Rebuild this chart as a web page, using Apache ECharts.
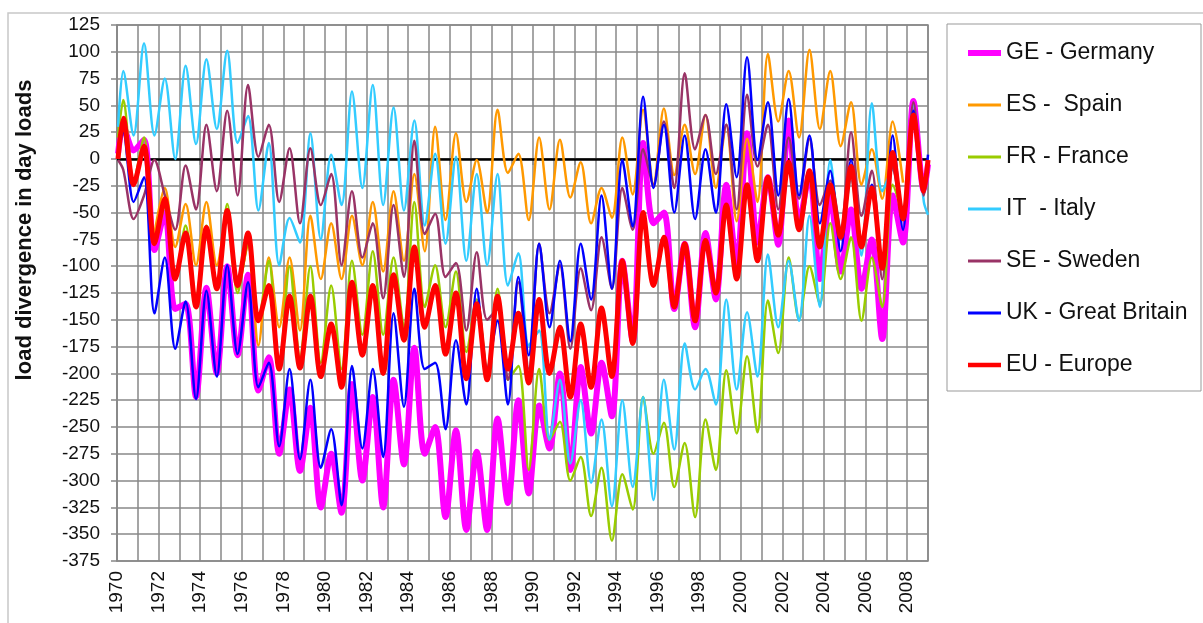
<!DOCTYPE html>
<html>
<head>
<meta charset="utf-8">
<script src="https://cdn.jsdelivr.net/npm/echarts@6/dist/echarts.min.js"></script>
<style>
html,body{margin:0;padding:0;background:#fff;}
#c{width:1203px;height:623px;}
</style>
</head>
<body>
<div id="c"></div>
<script>
// time points: start, then half-year samples (peak ~ .3, trough ~ .8), then end
const times = [1970.05];
for (let k = 0; k < 78; k++) times.push(+(1970.3 + 0.5 * k).toFixed(2));
times.push(2009.0);

const seriesNames = ['GE - Germany', 'ES -  Spain', 'FR - France', 'IT  - Italy', 'SE - Sweden', 'UK - Great Britain', 'EU - Europe'];
const yTitle = 'load divergence in day loads';

const GE = [5,
  30, 8,   18, -85,   -50, -140,   -135, -222,   -120, -200,
  -100, -183,   -108, -216,   -185, -275,   -215, -291,   -232, -325,
  -275, -330,   -210, -300,   -222, -325,   -206, -285,   -176, -275,
  -250, -334,   -253, -346,   -273, -346,   -242, -321,   -225, -312,
  -230, -270,   -200, -290,   -194, -256,   -190, -240,   -95, -170,
  15, -60,   -50, -140,   -79, -157,   -69, -131,   -24, -99,
  24, -78,   -17, -80,   36, -60,   -14, -112,   -34, -105,
  -47, -121,   -75, -168,   -34, -78,   54, -30,
  -5];

const ES = [null,
  null, null,   null, -70,   -27, -82,   -42, -99,   -40, -99,
  -53, -121,   -80, -174,   -92, -157,   -92, -160,   -53, -112,
  -60, -112,   -53, -99,   -40, -105,   -30, -95,   -14, -86,
  30, -57,   24, -40,   -1, -50,   46, -13,   5, -57,
  20, -47,   18, -36,   -3, -60,   -27, -55,   20, -33,
  46, -24,   47, -15,   32, -14,   41, -27,   32, -58,
  19, -40,   98, 35,   82, 20,   102, 28,   82, 12,
  53, -24,   9, -37,   35, -22,   null, null,
  null];

const FR = [20,
  55, -20,   20, -80,   -45, -110,   -62, -130,   -62, -120,
  -42, -125,   -80, -150,   -95, -196,   -100, -185,   -100, -190,
  -118, -196,   -95, -164,   -86, -164,   -92, -157,   -40, -138,
  -99, -157,   -105, -180,   -131, -196,   -121, -206,   -193, -290,
  -196, -262,   -245, -300,   -278, -333,   -288, -356,   -294, -327,
  -222, -275,   -246, -306,   -265, -334,   -243, -290,   -197, -256,
  -184, -255,   -132, -181,   -92, -150,   -100, -135,   -60, -112,
  -73, -151,   -92, -138,   -24, -53,   null, null,
  null];

const IT = [30,
  82, 22,   108, 22,   75, 0,   87, 14,   93, 28,
  101, 15,   40, -48,   15, -99,   -55, -78,   24, -75,
  4, -43,   63, -27,   69, -43,   48, -48,   36, -62,
  5, -79,   2, -95,   -14, -99,   -14, -118,   -88, -174,
  -160, -262,   -206, -284,   -225, -302,   -243, -324,   -225, -306,
  -222, -318,   -206, -271,   -172, -215,   -196, -229,   -131, -215,
  -143, -203,   -89, -157,   -95, -151,   -53, -138,   -1, -70,
  -20, -90,   52, -30,   -10, -50,   50, -40,
  -52];

const SE = [-1,
  -10, -56,   -34, -1,   -34, -66,   -6, -47,   32, -30,
  45, -34,   69, 2,   32, -40,   10, -60,   10, -43,
  -14, -99,   -30, -92,   -60, -130,   -43, -110,   17, -70,
  -51, -110,   -97, -160,   -87, -150,   -140, -206,   -115, -196,
  -79, -144,   -99, -177,   -102, -141,   -73, -121,   -27, -66,
  9, -24,   35, -27,   80, 9,   41, -14,   32, -47,
  60, -7,   32, -47,   20, -37,   19, -43,   -20, -66,
  25, -53,   -11, -112,   -7, -53,   53, -34,
  -10];

const UK = [2,
  25, -40,   -17, -144,   -92, -177,   -133, -224,   -123, -203,
  -99, -182,   -115, -213,   -190, -268,   -196, -280,   -206, -288,
  -252, -323,   -193, -270,   -196, -278,   -144, -231,   -121, -196,
  -190, -252,   -169, -229,   -121, -196,   -151, -229,   -110, -183,
  -79, -157,   -95, -170,   -79, -131,   -34, -121,   -1, -63,
  58, -27,   32, -50,   22, -56,   9, -50,   51, -17,
  95, -1,   53, -34,   56, -34,   22, -60,   -11, -86,
  -1, -76,   -24, -99,   22, -66,   45, -24,
  4];

const EU = [0,
  38, -24,   12, -79,   -37, -112,   -69, -138,   -64, -121,
  -48, -118,   -69, -151,   -118, -196,   -128, -195,   -128, -203,
  -154, -213,   -115, -183,   -118, -200,   -108, -169,   -82, -157,
  -118, -182,   -125, -205,   -135, -206,   -128, -196,   -144, -209,
  -131, -200,   -157, -222,   -154, -213,   -139, -203,   -95, -172,
  -50, -118,   -73, -138,   -79, -151,   -76, -125,   -43, -112,
  -24, -95,   -17, -71,   -3, -66,   -11, -82,   -24, -73,
  -7, -82,   -27, -102,   6, -56,   41, -30,
  -1];

const seriesData = [GE, ES, FR, IT, SE, UK, EU];
const colors = ['#ff00ff', '#ff9900', '#99cc00', '#33ccff', '#993366', '#0000ff', '#ff0000'];
const widths = [6, 2.5, 2.5, 2.5, 2.5, 2.5, 5];
const legendWidths = [6, 3, 3, 3, 3, 3, 4.5];

function pairs(arr) { return arr.map((v, i) => [times[i], v]); }

const FONT = "'Liberation Sans', Arial, sans-serif";
const chart = echarts.init(document.getElementById('c'), null, {renderer: 'canvas'});

const series = seriesNames.map((n, i) => ({
  name: n,
  type: 'line',
  data: pairs(seriesData[i]),
  showSymbol: false,
  symbol: 'none',
  smooth: 0.3,
  connectNulls: false,
  lineStyle: {color: colors[i], width: widths[i]},
  itemStyle: {color: colors[i]},
  z: 3 + i,
  animation: false
}));
series[0].markLine = {
  silent: true, symbol: 'none', label: {show: false},
  lineStyle: {color: '#000', width: 2.5, type: 'solid'},
  data: [{yAxis: 0}], z: 2
};

chart.setOption({
  backgroundColor: '#fff',
  animation: false,
  textStyle: {fontFamily: FONT},
  grid: {left: 117, right: 275, top: 25, bottom: 62, show: true, borderColor: '#888', borderWidth: 1.5},
  graphic: [
    {type: 'rect', shape: {x: 8, y: 13, width: 1200, height: 620}, style: {fill: 'none', stroke: '#c8c8c8', lineWidth: 1.5}, silent: true, z: 0},
    {type: 'rect', shape: {x: 947, y: 24, width: 254, height: 367}, style: {fill: '#fff', stroke: '#999', lineWidth: 1}, silent: true, z: 1},
    {type: 'text', x: 25, y: 230, rotation: Math.PI / 2, silent: true, z: 5,
     style: {text: yTitle, font: "bold 22px 'Liberation Sans', Arial, sans-serif", fill: '#111', align: 'center', verticalAlign: 'middle'}}
  ],
  legend: {
    orient: 'vertical', left: 965, top: 40, padding: 0,
    itemWidth: 33, itemHeight: 12, itemGap: 26,
    itemStyle: {opacity: 0},
    textStyle: {fontFamily: FONT, fontSize: 23, color: '#111', lineHeight: 26},
    data: seriesNames.map((n, i) => ({name: n, lineStyle: {width: legendWidths[i]}})),
    z: 10
  },
  xAxis: {
    type: 'value', min: 1970, max: 2009, interval: 2,
    axisLine: {show: true, lineStyle: {color: '#888', width: 1.5}},
    axisTick: {show: true, length: 6, lineStyle: {color: '#888', width: 1.5}},
    minorTick: {show: false, splitNumber: 2},
    splitLine: {show: true, lineStyle: {color: '#888', width: 1.5}},
    minorSplitLine: {show: true, lineStyle: {color: '#888', width: 1.5}},
    axisLabel: {
      rotate: 90, margin: 10, fontSize: 19, color: '#111', fontFamily: FONT,
      formatter: v => (v % 2 === 0 && v <= 2008) ? String(v) : ''
    }
  },
  yAxis: {
    type: 'value', min: -375, max: 125, interval: 25,
    axisLine: {show: true, lineStyle: {color: '#888', width: 1.5}},
    axisTick: {show: true, length: 6, lineStyle: {color: '#888', width: 1.5}},
    splitLine: {show: true, lineStyle: {color: '#888', width: 1.5}},
    axisLabel: {fontSize: 19, color: '#111', margin: 17, fontFamily: FONT}
  },
  series: series
});
</script>
</body>
</html>
